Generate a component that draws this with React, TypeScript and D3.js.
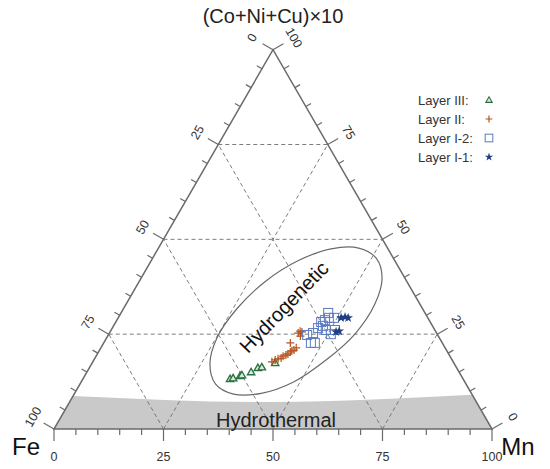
import React from "react";
import * as d3 from "d3";

// Ternary data: [Mn %, (Co+Ni+Cu)x10 %]; Fe = 100 - Mn - C
const layerIII: [number, number][] = [
  [33.6, 13.2], [34.2, 13.4], [35.5, 14.0], [35.8, 14.2], [37.5, 15.0],
  [38.5, 16.1], [39.3, 16.3], [41.8, 17.4],
];
const layerII: [number, number][] = [
  [40.9, 17.7], [41.4, 18.2], [41.9, 18.5], [42.5, 18.7], [42.7, 19.2],
  [43.2, 19.5], [43.5, 19.8], [43.8, 20.3], [44.0, 20.6], [44.4, 20.8],
  [44.6, 21.4], [42.6, 22.7], [43.1, 25.3], [43.3, 25.8], [43.8, 25.6], [44.0, 24.5],
];
const layerI2: [number, number][] = [
  [45.4, 24.8], [47.3, 22.7], [48.2, 22.7], [47.0, 26.6], [46.9, 28.2],
  [47.5, 28.7], [48.1, 29.3], [49.3, 29.3], [49.0, 26.1], [50.7, 25.0],
  [47.8, 27.2], [46.5, 25.3], [51.1, 26.1], [47.3, 30.6],
];
const layerI1: [number, number][] = [
  [50.9, 29.3], [51.7, 29.5], [52.5, 29.3], [51.6, 25.6], [52.2, 25.8],
];
const hydrogeneticOutline: [number, number][] = [
  [51.1, 45.0], [55.0, 39.8], [56.8, 32.8], [56.2, 25.1], [53.1, 18.3],
  [48.5, 12.4], [42.6, 9.4], [36.4, 9.2], [30.9, 11.9], [27.0, 17.2],
  [25.2, 24.1], [25.9, 31.7], [28.8, 38.9], [33.6, 44.4], [39.5, 47.5], [45.7, 47.7],
];
const hydrothermalTop: [number, number][] = [
  [0, 8.7], [46.3, 7.1], [91.0, 9.0],
];
const gridValues = [25, 50, 75];
const tickValues = d3.range(0, 101, 5);
const majorTicks = [0, 25, 50, 75, 100];
const legendItems = ["Layer III:", "Layer II:", "Layer I-2:", "Layer I-1:"];

const FONT = "'Liberation Sans', Arial, Helvetica, sans-serif";

export default function App() {
  const x0 = 54, x1 = 492, yBase = 429;
  const H = (x1 - x0) * Math.sqrt(3) / 2;
  const xs = d3.scaleLinear().domain([0, 100]).range([x0, x1]);
  const ys = d3.scaleLinear().domain([0, 100]).range([yBase, yBase - H]);
  const P = (m: number, c: number): [number, number] => [xs(m + c / 2), ys(c)];

  const n = Math.sqrt(3) / 2;
  const leftN = [-n, -0.5];
  const rightN = [n, -0.5];

  const line = d3.line<[number, number]>();
  const tri = [P(0, 0), P(100, 0), P(0, 100)];

  const topPts = hydrothermalTop.map(([m, c]) => P(m, c));
  const topPath = d3.line<[number, number]>().curve(d3.curveNatural)(topPts) as string;
  const bandPath = `${topPath}L${P(100, 0).join(",")}L${P(0, 0).join(",")}Z`;

  const outlinePath = d3.line<[number, number]>().curve(d3.curveCatmullRomClosed.alpha(0.5))(
    hydrogeneticOutline.map(([m, c]) => P(m, c))
  ) as string;

  const gridLines: [[number, number], [number, number]][] = [];
  gridValues.forEach((v) => {
    gridLines.push([P(0, v), P(100 - v, v)]);
    gridLines.push([P(v, 0), P(v, 100 - v)]);
    gridLines.push([P(100 - v, 0), P(0, 100 - v)]);
  });

  const tickLen = (v: number) => (majorTicks.includes(v) ? 12 : 6);
  const labelColor = "#333";

  const triSym = d3.symbol(d3.symbolTriangle, 24)() as string;
  const starSym = d3.symbol(d3.symbolStar, 30)() as string;

  const drawMarker = (k: number, x: number, y: number, key: string, s = 1) => {
    if (k === 0)
      return <path key={key} d={triSym} transform={`translate(${x},${y + 0.5}) scale(${s})`} fill="#d6ecdc" stroke="#2a6e40" strokeWidth={1.3} />;
    if (k === 1)
      return (
        <path key={key} d={`M${x - 4 * s},${y}H${x + 4 * s}M${x},${y - 4 * s}V${y + 4 * s}`} stroke="#b4531f" strokeWidth={1.2} fill="none" />
      );
    if (k === 2)
      return <rect key={key} x={x - 4.5 * s} y={y - 4.5 * s} width={9 * s} height={9 * s} fill="none" stroke="#5a7cc0" strokeWidth={1} />;
    return <path key={key} d={starSym} transform={`translate(${x},${y}) scale(${s})`} fill="#1f3f82" />;
  };

  const series = [layerIII, layerII, layerI2, layerI1];

  return (
    <svg width={550} height={469} style={{ display: "block", position: "absolute", left: 0, top: 0 }} fontFamily={FONT}>
      <rect width={550} height={469} fill="#fff" />
      <path d={bandPath} fill="#c9c9c9" />
      {gridLines.map(([a, b], i) => (
        <line key={i} x1={a[0]} y1={a[1]} x2={b[0]} y2={b[1]} stroke="#6e6e6e" strokeWidth={0.9} strokeDasharray="4,3" />
      ))}
      <path d={line(tri as [number, number][]) + "Z"} fill="none" stroke="#6a6a6a" strokeWidth={1.5} />
      {tickValues.map((v) => {
        const [x, y] = P(v, 0);
        return <line key={"b" + v} x1={x} y1={y} x2={x} y2={y + tickLen(v)} stroke="#6a6a6a" strokeWidth={1.2} />;
      })}
      {tickValues.map((v) => {
        const [x, y] = P(0, v);
        const L = tickLen(v);
        return <line key={"l" + v} x1={x} y1={y} x2={x + leftN[0] * L} y2={y + leftN[1] * L} stroke="#6a6a6a" strokeWidth={1.2} />;
      })}
      {tickValues.map((v) => {
        const [x, y] = P(100 - v, v);
        const L = tickLen(v);
        return <line key={"r" + v} x1={x} y1={y} x2={x + rightN[0] * L} y2={y + rightN[1] * L} stroke="#6a6a6a" strokeWidth={1.2} />;
      })}
      {majorTicks.map((v) => {
        const [x, y] = P(v, 0);
        return (
          <text key={"bl" + v} x={x} y={y + 28} fontSize={12.5} fill={labelColor} textAnchor="middle" dominantBaseline="central">
            {v}
          </text>
        );
      })}
      {majorTicks.map((v) => {
        const [x, y] = P(0, v);
        const lx = x + leftN[0] * 24, ly = y + leftN[1] * 24;
        return (
          <text key={"ll" + v} x={lx} y={ly} fontSize={12.5} fill={labelColor} textAnchor="middle" dominantBaseline="central" transform={`rotate(-60,${lx},${ly})`}>
            {100 - v}
          </text>
        );
      })}
      {majorTicks.map((v) => {
        const [x, y] = P(100 - v, v);
        const lx = x + rightN[0] * 24, ly = y + rightN[1] * 24;
        return (
          <text key={"rl" + v} x={lx} y={ly} fontSize={12.5} fill={labelColor} textAnchor="middle" dominantBaseline="central" transform={`rotate(60,${lx},${ly})`}>
            {v}
          </text>
        );
      })}
      <path d={outlinePath} fill="none" stroke="#6a6a6a" strokeWidth={1.2} />
      <text x={284} y={307} fontSize={20} fill="#111" textAnchor="middle" dominantBaseline="central" transform="rotate(-46,284,307)">
        Hydrogenetic
      </text>
      <text x={276} y={420} fontSize={20} fill="#222" textAnchor="middle" dominantBaseline="central">
        Hydrothermal
      </text>
      {series.map((s, k) => s.map(([m, c], i) => {
        const [x, y] = P(m, c);
        return drawMarker(k, x, y, `m${k}-${i}`);
      }))}
      {legendItems.map((t, i) => (
        <g key={t}>
          <text x={418} y={100 + i * 19} fontSize={13} fill="#333" dominantBaseline="central">{t}</text>
          {drawMarker(i, 489, 100 + i * 19, "lg" + i, 0.85)}
        </g>
      ))}
      <text x={273} y={16} fontSize={20} fill="#222" textAnchor="middle" dominantBaseline="central">(Co+Ni+Cu)×10</text>
      <text x={26} y={446} fontSize={24} fill="#111" textAnchor="middle" dominantBaseline="central">Fe</text>
      <text x={518} y={446} fontSize={24} fill="#111" textAnchor="middle" dominantBaseline="central">Mn</text>
    </svg>
  );
}
